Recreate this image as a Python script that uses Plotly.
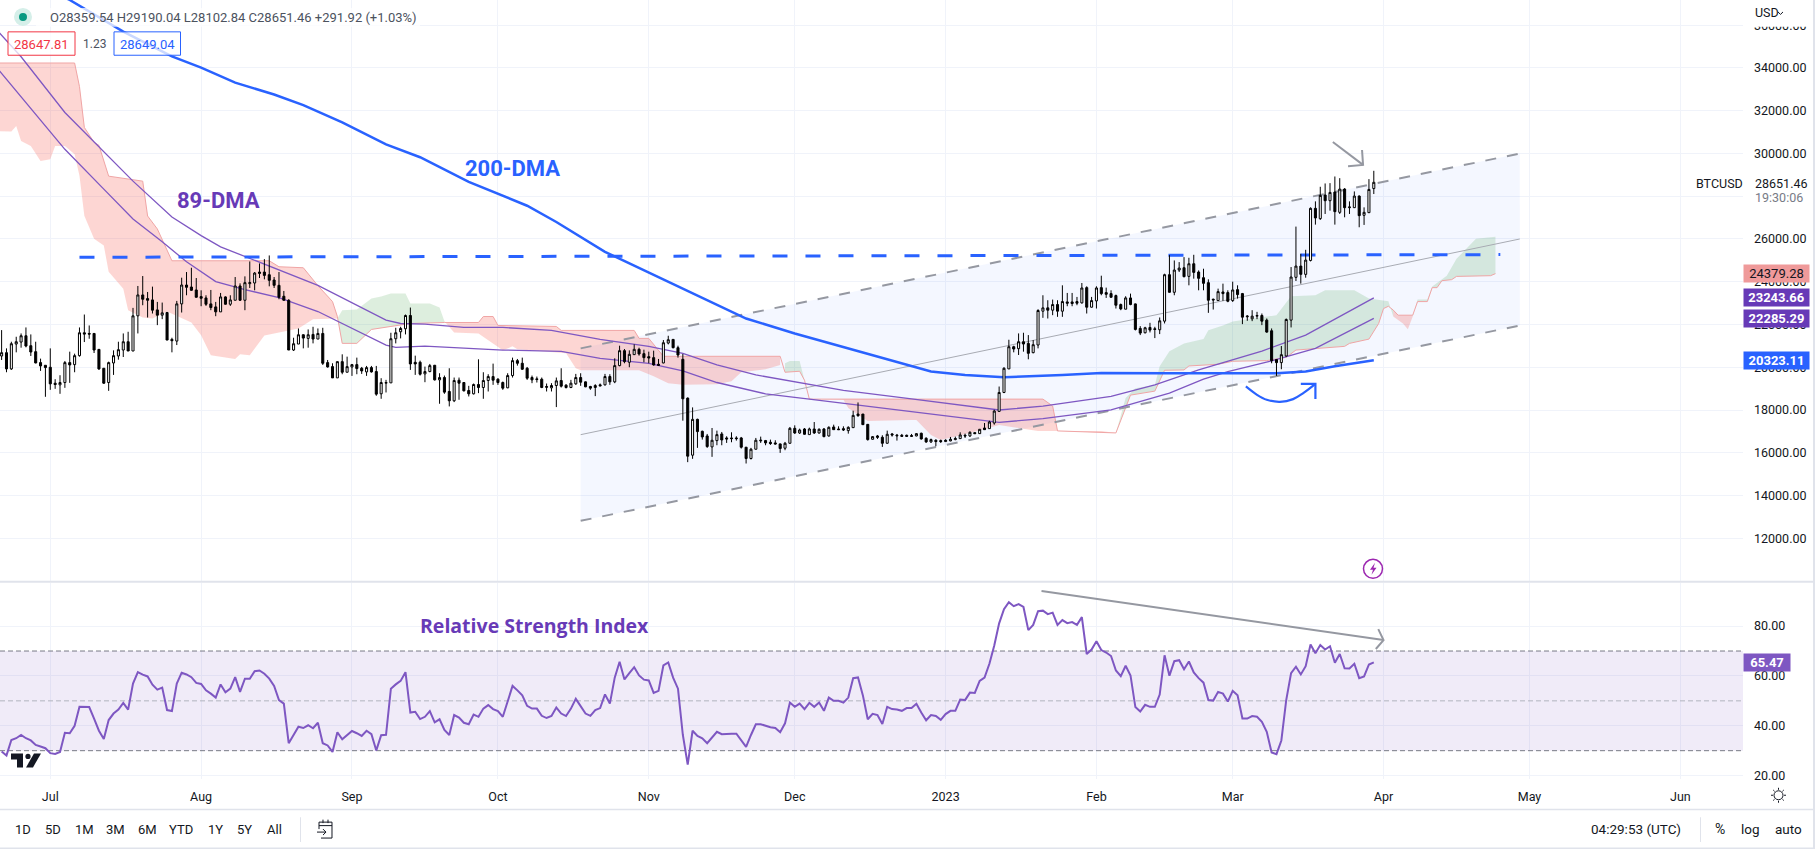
import pandas as pd
import plotly.graph_objs as go


chart_width = 1815
chart_height = 853
font_name = 'Roboto'

candle_dates = pd.date_range('2022-06-21', '2023-03-30')

open_prices = [
    20527,20682,19922,21086,21179,21474,21008,20729,20217,20092,
    20000,19254,19177,19285,20217,20124,20543,21613,21582,21582,
    20837,19953,19285,20201,20527,20806,21194,20760,22405,23383,
    23212,23150,22684,22436,22560,21303,21225,22964,23848,23755,
    23616,23305,23243,22964,22824,22591,23290,22948,23134,23802,
    23134,23910,23941,24454,24454,24329,24081,23833,23321,23134,
    20806,21086,21520,21350,21536,21319,21582,20217,20030,19503,
    20263,19767,
    20015,20124,19953,19782,19984,19798,18758,19255,
    19270,21334,21660,21800,22421,20233,20233,19689,19798,20093,
    19410,19519,18867,18432,19394,19286,18913,18758,19193,19053,
    19379,19565,19441,19286,19037,19612,20310,20186,19953,19519,
    19457,19441,19100,19037,19146,19379,19162,19053,19224,19519,
    19317,19100,19053,19177,19177,19565,19317,20077,20776,20233,
    20590,20838,20636,20496,20450,20139,20201,21133,21303,20915,
    20372,18556,15887,17563,
    17004,16787,16274,16569,16880,16693,
    16693,16693,16693,16259,15731,16166,16554,16569,16492,16461,
    16414,16212,16445,17143,16926,17113,16849,17113,16926,17113,
    16787,17206,17113,17128,17035,17175,17811,17811,17330,16631,
    16787,16724,16445,16880,16787,16818,16818,16802,16787,16911,
    16678,16507,16585,16569,16523,16554,16616,16662,16818,16787,
    16942,16895,17159,17128,17392,17935,18820,19922,20961,
    20869,21195,21117,20683,21040,22623,22778,22669,22933,22623,
    23057,23057,23073,23011,23725,22809,23104,23725,23492,23445,
    23352,22933,22716,23243,22964,21816,21614,21862,21800,21754,
    22157,24330,23507,24547,24656,24252,24842,24454,24190,23957,
    23181,23119,23523,23492,23119,23631,23445,22359,22266,22390,
    22421,22204,21707,20357,20217,20527,22204,24206,24733,24345,
    24997,27434,26953,28055,27791,28194,27248,28334,27465,27465,
    28008,27108,27232,28359.54,
]

high_prices = [
    21738,20884,21194,21427,21582,21862,21536,21194,20403,20092,
    20884,19441,19627,20294,20729,20636,21862,22467,21955,21582,
    20837,19953,20263,20791,21194,21582,21660,22777,23802,24267,
    23522,23771,23057,23026,22591,21381,23103,24190,24454,24655,
    24174,23600,23367,23616,23057,23476,23321,23367,24221,23926,
    24252,24950,24454,24857,25059,25230,24221,24454,23569,23181,
    21381,21815,21536,21769,21893,21815,21846,20341,20186,20263,
    20605,20496,
    20155,20450,20015,20062,20062,20062,19488,19410,
    21614,21847,21893,22467,22793,20543,20310,20031,20155,20108,
    19720,19612,19953,19519,19519,19301,19131,19239,20372,19767,
    19674,20170,19488,19332,19720,20450,20388,20450,20015,19612,
    19565,19519,19239,19255,19519,19953,19208,19410,19689,19720,
    19332,19131,19208,19239,19689,19674,20419,21009,20853,20791,
    21071,20915,20822,20729,20776,20388,21272,21474,21319,21009,
    20621,18587,18122,17594,
    17035,16880,17159,17035,16973,16771,
    16957,16771,16740,16274,16228,16693,16755,16600,16616,16585,
    16430,16507,17206,17283,17128,17159,17175,17438,17143,17159,
    17237,17314,17237,17237,17237,17966,18354,17811,17345,16771,
    16833,16818,17035,16926,16880,16880,16849,16880,16911,16942,
    16724,16662,16631,16616,16631,16740,16755,16957,16895,17004,
    16957,17113,17392,17501,18013,19099,19999,21287,21008,
    21583,21614,21505,21272,22716,23368,23135,23166,23135,23833,
    23476,23476,23290,23942,23787,23290,23787,24283,23725,23600,
    23399,22980,23321,23445,22980,21924,21893,22079,21893,22328,
    24376,25246,24997,24920,25152,25121,25261,24532,24609,24113,
    23212,23678,23911,23600,24004,23833,23476,22436,22669,22592,
    22514,22281,21816,20372,20993,22281,24687,26580,25308,25494,
    27480,27760,28443,28598,28613,28924,28846,28381,27760,28225,
    28039,27480,28800,29190.04,
]

low_prices = [
    20341,19767,19875,20698,20915,20931,20527,20186,19829,18618,
    18944,18991,18758,19037,19270,19767,20496,21179,21334,20667,
    19875,19223,18897,19642,20356,20480,20760,20760,21582,22902,
    22327,22514,21970,22250,21272,20698,21039,22560,23367,23569,
    23259,22855,22870,22669,22389,22591,22933,22870,23134,23103,
    22669,23709,23600,24174,24112,23786,23709,23181,23119,20806,
    20760,21086,20884,20915,21117,21319,20108,19984,19503,19503,
    19673,19767,
    19596,19674,19689,19596,19751,18665,18525,18820,
    19270,21117,21350,21536,19876,19643,19612,19301,19767,19379,
    18293,18758,18168,18370,18479,18867,18634,18727,18789,18525,
    18867,19177,19177,18944,19022,19519,20077,19876,19410,19255,
    19286,19022,18867,18867,18137,19053,19006,19022,19177,19131,
    19069,18944,18650,19115,19146,19177,19255,20046,20186,20000,
    20574,20543,20233,20186,20077,20062,20186,21071,20884,20450,
    17501,15561,15716,16229,
    16616,16228,15809,16352,16352,16461,
    16492,16569,16197,15498,15685,16150,16461,16352,16367,16383,
    15995,16119,16430,16880,16880,16849,16849,16880,16895,16724,
    16755,17066,17066,17019,16895,17159,17687,17299,16569,16616,
    16647,16274,16430,16755,16569,16755,16755,16740,16771,16616,
    16461,16461,16305,16461,16507,16538,16585,16647,16693,16740,
    16880,16880,17081,17113,17314,17919,18789,19922,20698,
    20574,20729,20372,20652,20884,22312,22281,22436,22359,22359,
    22855,22855,22902,22980,22514,22793,22747,23368,23243,23259,
    22747,22669,22716,22902,21722,21505,21583,21629,21365,21552,
    22048,23492,23368,24454,24206,23833,24144,23600,23600,22545,
    22700,23104,23104,23042,23057,23212,22017,22173,22157,22250,
    21971,21614,20186,19596,19907,20496,21862,24035,23911,24190,
    24951,26673,26891,27170,27325,26673,27170,27015,27170,27449,
    26549,26658,27216,28102.84,
]

close_prices = [
    20682,19922,21101,21194,21474,20993,20713,20201,20061,19984,
    19223,19192,19285,20217,20108,20543,21613,21551,21551,20806,
    19922,19254,20217,20543,20822,21194,20760,22405,23383,23181,
    23134,22669,22436,22545,21272,21241,22964,23848,23740,23600,
    23274,23228,22948,22793,22591,23290,22948,23150,23802,23134,
    23957,23957,24407,24392,24298,24066,23833,23274,23134,20806,
    21101,21520,21365,21520,21319,21582,20186,20015,19503,20263,
    19767,20030,
    20124,19938,19829,19984,19782,18743,19286,19286,
    21334,21614,21816,22421,20155,20155,19674,19798,20077,19410,
    19519,18836,18432,19379,19255,18898,18758,19193,19053,19379,
    19565,19394,19286,19022,19612,20310,20186,19907,19488,19410,
    19426,19053,19068,19146,19363,19115,19053,19255,19519,19301,
    19084,19022,19146,19131,19565,19317,20077,20776,20264,20605,
    20838,20621,20450,20434,20108,20093,21148,21288,20915,20574,
    18525,15840,17563,16989,
    16740,16290,16585,16849,16600,16647,
    16662,16662,16259,15731,16166,16585,16585,16461,16430,16414,
    16197,16445,17143,16926,17066,16864,17113,16926,17097,16755,
    17190,17081,17081,17066,17190,17749,17733,17314,16616,16755,
    16724,16445,16864,16833,16818,16771,16771,16771,16895,16647,
    16507,16616,16523,16523,16585,16631,16662,16833,16786,16957,
    16895,17097,17081,17438,17951,18820,19953,20961,20853,
    21195,21086,20652,21055,22654,22778,22669,22933,22623,23073,
    22995,22980,22995,23709,22809,23119,23709,23445,23414,23274,
    22902,22731,23243,22933,21769,21598,21847,21738,21769,22173,
    24330,23507,24547,24640,24237,24842,24438,24159,23926,23135,
    23150,23538,23445,23088,23616,23399,22343,22390,22390,22421,
    22157,21645,20310,20217,20589,22235,24221,24733,24345,25013,
    27434,26984,28039,27791,28179,27279,28334,27465,27496,28008,
    27092,27248,28318,28651.46,
]

rsi_values = [
    29.7,28.1,34.3,35.0,36.3,35.0,34.1,32.3,31.7,31.0,
    29.0,28.7,29.5,37.2,37.0,40.0,47.6,47.6,47.5,42.9,38.0,34.7,42.3,44.9,46.5,49.2,46.5,56.9,61.5,60.5,59.8,
    56.5,54.5,55.3,46.3,45.9,56.9,61.3,60.6,59.5,57.2,
    56.8,54.2,52.9,51.3,56.6,53.4,54.9,59.5,53.6,58.9,58.9,61.9,62.2,60.9,58.9,56.0,50.3,48.9,33.0,36.3,39.6,
    39.1,40.2,39.0,41.2,33.0,32.1,29.5,37.4,34.6,36.3,
    37.9,37.0,35.9,38.0,36.6,30.1,36.2,36.4,54.9,56.6,58.0,61.5,45.3,45.6,42.7,43.6,45.9,41.4,42.6,38.3,36.3,
    44.3,43.3,41.2,40.6,44.5,43.6,46.9,48.3,46.7,
    45.9,43.6,49.9,56.0,54.2,52.2,48.0,46.9,46.9,44.0,43.1,43.9,47.3,44.9,43.9,46.9,50.8,47.6,44.9,44.0,46.3,47.1,
    52.6,48.9,59.3,65.7,58.6,61.1,63.5,60.2,58.5,
    58.2,53.2,54.0,64.2,65.4,59.3,54.9,36.3,24.4,38.0,35.9,35.0,33.0,35.4,37.6,36.6,36.8,36.8,36.8,34.3,31.5,
    36.3,40.6,40.6,39.9,39.4,39.1,37.4,41.0,49.3,
    47.6,48.9,46.7,49.2,47.6,49.3,46.0,51.3,50.0,50.0,49.3,51.3,59.1,59.4,52.2,42.6,44.8,44.3,40.7,47.6,46.7,
    46.5,46.0,47.1,47.1,48.8,45.3,42.2,44.3,43.9,42.4,
    44.7,46.0,46.0,50.5,50.3,53.3,53.2,58.0,59.3,64.9,72.2,81.1,86.8,89.6,88.0,88.8,87.7,78.4,80.5,86.0,86.2,
    84.8,85.4,80.5,82.4,81.2,81.6,80.5,83.6,68.8,70.6,
    73.9,70.4,69.4,68.0,62.2,59.9,64.1,60.2,47.5,45.7,48.4,47.6,47.6,52.5,68.3,60.1,65.9,66.3,62.7,65.8,61.4,
    59.1,57.3,50.3,50.1,53.6,52.9,49.7,
    54.0,52.2,42.9,42.9,43.9,43.6,41.6,37.6,29.3,28.6,34.1,50.3,61.1,63.7,60.6,63.9,72.6,69.1,72.4,70.6,71.9,
    65.3,68.8,63.1,63.0,64.9,59.1,59.8,64.6,65.47,
]

dma_200_dates = ['2022-06-20','2022-07-05','2022-07-16','2022-07-26','2022-08-01','2022-08-08','2022-08-16','2022-08-22',
    '2022-08-30','2022-09-08','2022-09-15','2022-09-25','2022-10-07','2022-10-13','2022-10-23','2022-11-05','2022-11-13',
    '2022-11-21','2022-12-01','2022-12-13','2022-12-25','2022-12-29','2023-01-05','2023-01-13','2023-01-25','2023-02-02',
    '2023-02-15','2023-03-10','2023-03-16','2023-03-22','2023-03-30']
dma_200 = [38900,37180,35704,34540,34014,33316,32757,32259,31453,30429,29824,28673,27556,26797,25400,24003,23133,
    22280,21582,20805,20046,19800,19640,19530,19640,19735,19720,19720,19800,20046,20323.11]

dma_89_high_dates = ['2022-06-20','2022-06-25','2022-07-04','2022-07-12','2022-07-18','2022-07-26','2022-08-01','2022-08-05',
    '2022-08-10','2022-08-17','2022-08-25','2022-09-08','2022-09-11','2022-09-16','2022-09-24','2022-10-02','2022-10-12',
    '2022-10-22','2022-11-01','2022-11-08','2022-11-15','2022-11-23','2022-12-11','2022-12-25','2023-01-12','2023-01-21',
    '2023-02-04','2023-02-13','2023-02-22','2023-03-07','2023-03-16','2023-03-30']
dma_89_high = [35783,34526,31919,30056,28706,27030,26159,25633,25190,24576,23832,22202,22047,22015,21862,21862,21722,
    21303,20977,20651,20107,19641,18915,18524,18000,18186,18635,19175,19874,20758,21503,23243.66]

dma_89_low_dates = ['2022-06-20','2022-06-25','2022-07-04','2022-07-12','2022-07-18','2022-07-24','2022-07-29','2022-08-04',
    '2022-08-10','2022-08-17','2022-08-25','2022-09-08','2022-09-10','2022-09-16','2022-09-24','2022-10-02','2022-10-14',
    '2022-10-22','2022-11-01','2022-11-08','2022-11-15','2022-11-25','2022-12-04','2022-12-25','2023-01-12','2023-01-21',
    '2023-02-04','2023-02-16','2023-02-23','2023-02-28','2023-03-09','2023-03-18','2023-03-30']
dma_89_low = [34014,32664,30196,28334,26937,25866,24935,24004,23631,23259,22607,21038,20931,20991,20884,20805,20744,
    20418,20186,19827,19287,18756,18510,17937,17425,17593,18011,18789,19440,19800,20293,20884,22285.29]

span_b_dates = ['2022-06-20','2022-07-06','2022-07-07','2022-07-08','2022-07-10','2022-07-11','2022-07-13','2022-07-20',
    '2022-07-21','2022-07-23','2022-07-26','2022-08-15','2022-08-17','2022-08-22','2022-08-25','2022-08-28','2022-08-29',
    '2022-08-30','2022-09-02','2022-09-05','2022-09-09','2022-09-13','2022-09-20','2022-09-27','2022-09-28','2022-09-30',
    '2022-10-01','2022-10-13','2022-10-14','2022-10-29','2022-10-30','2022-11-01','2022-11-04','2022-11-28','2022-11-29',
    '2022-12-02','2022-12-03','2022-12-04','2023-01-21','2023-01-23','2023-01-24','2023-02-05','2023-02-08','2023-02-13',
    '2023-02-15','2023-02-19','2023-02-20','2023-02-26','2023-03-01','2023-03-08','2023-03-12','2023-03-14','2023-03-24',
    '2023-03-25','2023-03-29','2023-03-31','2023-04-01','2023-04-02','2023-04-03','2023-04-04','2023-04-07','2023-04-08',
    '2023-04-10','2023-04-11','2023-04-12','2023-04-13','2023-04-15','2023-04-16','2023-04-23','2023-04-24']
span_b = [34233,34233,33130,31220,30522,30382,28939,28706,27076,26470,24981,24981,24702,24655,23817,23073,22375,
    21118,21118,21769,21909,22047,22094,22094,22373,22373,21955,21909,21723,21723,21351,21351,20512,20512,19766,
    19813,19395,18510,18510,18186,17022,16928,18697,18884,19859,19874,20060,20140,20280,20311,20465,20805,20977,
    21117,21317,22047,22745,22854,22675,22435,22435,23072,23072,23724,23724,24050,24097,24250,24283,24379.28]

span_a_dates = ['2022-06-20','2022-06-23','2022-06-24','2022-06-25','2022-06-27','2022-06-29','2022-07-01','2022-07-02',
    '2022-07-04','2022-07-06','2022-07-07','2022-07-08','2022-07-10','2022-07-12','2022-07-13','2022-07-16','2022-07-17',
    '2022-07-20','2022-07-22','2022-07-25','2022-07-30','2022-08-01','2022-08-03','2022-08-08','2022-08-09','2022-08-11',
    '2022-08-14','2022-08-15','2022-08-21','2022-08-24','2022-08-29','2022-08-30','2022-09-02','2022-09-05','2022-09-07',
    '2022-09-09','2022-09-12','2022-09-13','2022-09-17','2022-09-19','2022-09-20','2022-09-22','2022-09-27','2022-09-29',
    '2022-10-02','2022-10-04','2022-10-05','2022-10-15','2022-10-17','2022-10-18','2022-10-30','2022-11-02','2022-11-05',
    '2022-11-08','2022-11-15','2022-11-18','2022-11-20','2022-11-25','2022-11-28','2022-11-29','2022-11-30','2022-12-02',
    '2022-12-03','2022-12-04','2022-12-11','2022-12-12','2022-12-14','2022-12-16','2022-12-25','2022-12-26','2022-12-29',
    '2022-12-31','2023-01-06','2023-01-12','2023-01-16','2023-01-20','2023-01-24','2023-02-02','2023-02-05','2023-02-07',
    '2023-02-09','2023-02-13','2023-02-14','2023-02-16','2023-02-19','2023-02-23','2023-02-24','2023-02-27','2023-03-01',
    '2023-03-10','2023-03-13','2023-03-18','2023-03-20','2023-03-26','2023-03-29','2023-04-02','2023-04-03','2023-04-05',
    '2023-04-06','2023-04-07','2023-04-08','2023-04-10','2023-04-11','2023-04-14','2023-04-16','2023-04-20','2023-04-24']
span_a = [31048,31034,31281,30582,30350,29651,29730,30350,30350,29963,28953,27090,26006,25694,24469,23677,22667,
    22327,22281,22607,22095,21503,20559,20386,20605,20559,21489,21536,21815,22245,22281,22667,22700,23212,23305,
    23445,23445,22979,22979,22793,22155,21628,21581,21255,20791,20977,20837,20651,19953,19860,19860,19582,19255,
    19176,19208,19348,19767,19906,20107,20186,20293,20293,19395,18510,18477,18090,17778,17485,17532,17532,16833,
    16600,16926,17298,17158,17019,17019,17019,16928,18560,19022,19175,20046,20744,21117,21317,21736,21955,22140,
    22435,23319,23366,23598,23598,23212,23086,22375,22047,21783,22375,23170,23170,23772,24283,25074,26006,26100]

channel_dates = ['2022-10-18','2023-04-29']
channel_top = [20884,30000]
channel_mid = [16847,26000]
channel_bottom = [12815,21955]

resistance_dates = ['2022-07-07','2023-04-25']
resistance = [25146,25269]

rsi_band_dates = ['2022-06-20 16:00','2023-06-13 21:00']
rsi_low = [30,30]
rsi_mid = [50,50]
rsi_high = [70,70]

price_arrow_dates = ['2023-03-21 14:00','2023-03-27 19:00',None,'2023-03-27 14:00','2023-03-27 19:00','2023-03-24 17:00']
price_arrow = [30536,29465,None,30163,29465,29404]

turn_dates = ['2023-03-03 17:00','2023-03-06','2023-03-08','2023-03-10 17:00','2023-03-13 10:00','2023-03-15 12:00','2023-03-18']
turn_prices = [19101,18710,18477,18384,18510,18790,19222]
turn_head_dates = ['2023-03-15','2023-03-18','2023-03-18']
turn_head = [19222,19222,18510]

rsi_arrow_dates = ['2023-01-20 17:00','2023-04-01',None,'2023-03-30 22:00','2023-04-01','2023-03-30 10:00']
rsi_arrow = [94.1,74.4,None,78.8,74.4,70.8]

month_ticks = ['2022-07-01','2022-08-01','2022-09-01','2022-10-01','2022-11-01','2022-12-01','2023-01-01',
    '2023-02-01','2023-03-01','2023-04-01','2023-05-01','2023-06-01']
month_names = ['Jul','Aug','Sep','Oct','Nov','Dec','2023','Feb','Mar','Apr','May','Jun']
price_ticks = [12000,14000,16000,18000,20000,22000,24000,26000,28000,30000,32000,34000,36000]
rsi_ticks = [20,40,60,80]

range_buttons = ['1D','5D','1M','3M','6M','YTD','1Y','5Y','All']
range_button_x = [23,53,84,115,147,181,215,244,274]

red_cloud = 'rgba(244,67,54,0.22)'
green_cloud = 'rgba(67,160,71,0.18)'


def cloud_piece(fig, start, end, color):

    top_x = [d for d in span_b_dates if start <= d <= end]
    top_y = [p for d, p in zip(span_b_dates, span_b) if start <= d <= end]
    bottom_x = [d for d in span_a_dates if start <= d <= end]
    bottom_y = [p for d, p in zip(span_a_dates, span_a) if start <= d <= end]

    fig.add_trace(go.Scatter(
        x = top_x + bottom_x[::-1],
        y = top_y + bottom_y[::-1],
        mode = 'lines',
        fill = 'toself',
        fillcolor = color,
        line = dict(width=0),
        zorder = -1
    ))


def price_line(fig, x, y, color, width, dash='solid', shape='linear'):

    fig.add_trace(go.Scatter(
        x = x,
        y = y,
        mode = 'lines',
        line = dict(color=color, width=width, dash=dash, shape=shape),
        connectgaps = False,
        zorder = -1
    ))


def rsi_line(fig, x, y, color, width, dash='solid'):

    fig.add_trace(go.Scatter(
        x = x,
        y = y,
        yaxis = 'y2',
        mode = 'lines',
        line = dict(color=color, width=width, dash=dash)
    ))


def page_label(fig, text, x, y, size=12, color='#131722', xanchor='left', family=font_name):

    fig.add_annotation(
        text = text,
        x = x / chart_width,
        y = 1 - y / chart_height,
        xref = 'paper',
        yref = 'paper',
        xanchor = xanchor,
        yanchor = 'middle',
        showarrow = False,
        font = dict(family=family, size=size, color=color)
    )


def axis_tag(fig, text, y, yref, bgcolor, color='white', width=65):

    fig.add_annotation(
        text = text,
        x = 1743 / chart_width,
        y = y,
        xref = 'paper',
        yref = yref,
        xanchor = 'left',
        yanchor = 'middle',
        width = width,
        height = 17,
        borderpad = 0,
        bgcolor = bgcolor,
        showarrow = False,
        font = dict(family=font_name, size=13, color=color)
    )


def page_path(points, close=False):

    parts = [f'{x / chart_width:.5f} {1 - y / chart_height:.5f}' for x, y in points]
    return 'M ' + ' L '.join(parts) + (' Z' if close else '')


def page_shape(fig, points, line_color=None, fill=None, width=1, close=False):

    fig.add_shape(
        type = 'path',
        path = page_path(points, close),
        xref = 'paper',
        yref = 'paper',
        line = dict(color=line_color, width=width) if line_color else dict(width=0),
        fillcolor = fill,
        layer = 'above'
    )


def page_circle(fig, x, y, r, line_color=None, fill=None, width=1):

    fig.add_shape(
        type = 'circle',
        x0 = (x - r) / chart_width,
        x1 = (x + r) / chart_width,
        y0 = 1 - (y + r) / chart_height,
        y1 = 1 - (y - r) / chart_height,
        xref = 'paper',
        yref = 'paper',
        line = dict(color=line_color, width=width) if line_color else dict(width=0),
        fillcolor = fill,
        layer = 'above'
    )


def page_box(fig, x0, y0, x1, y1, line_color=None, fill=None):

    fig.add_shape(
        type = 'rect',
        x0 = x0 / chart_width,
        x1 = x1 / chart_width,
        y0 = 1 - y1 / chart_height,
        y1 = 1 - y0 / chart_height,
        xref = 'paper',
        yref = 'paper',
        line = dict(color=line_color, width=1) if line_color else dict(width=0),
        fillcolor = fill,
        layer = 'above'
    )


def plot_btc_chart():

    fig = go.Figure()

    # channel behind everything
    fig.add_trace(go.Scatter(
        x = channel_dates + channel_dates[::-1],
        y = channel_top + channel_bottom[::-1],
        mode = 'lines',
        fill = 'toself',
        fillcolor = 'rgba(41,98,255,0.05)',
        line = dict(width=0),
        zorder = -1
    ))

    cloud_piece(fig, '2022-06-20', '2022-08-29', red_cloud)
    cloud_piece(fig, '2022-08-29', '2022-09-20', green_cloud)
    cloud_piece(fig, '2022-09-20', '2022-11-28', red_cloud)
    cloud_piece(fig, '2022-11-29', '2022-12-03', green_cloud)
    cloud_piece(fig, '2022-12-03', '2023-02-05', red_cloud)
    cloud_piece(fig, '2023-02-05', '2023-04-03', green_cloud)
    cloud_piece(fig, '2023-04-03', '2023-04-07', red_cloud)
    cloud_piece(fig, '2023-04-07', '2023-04-24', green_cloud)

    price_line(fig, span_b_dates, span_b, 'rgb(240,165,165)', 1)
    price_line(fig, channel_dates, channel_top, '#9598a1', 2, '11px,11px')
    price_line(fig, channel_dates, channel_bottom, '#9598a1', 2, '11px,11px')
    price_line(fig, channel_dates, channel_mid, '#a8abb3', 1)
    price_line(fig, dma_89_high_dates, dma_89_high, '#7e57c2', 1.3)
    price_line(fig, dma_89_low_dates, dma_89_low, '#7e57c2', 1.3)
    price_line(fig, dma_200_dates, dma_200, '#2962ff', 2.5)
    price_line(fig, resistance_dates, resistance, '#2962ff', 3, '15px,18px')
    price_line(fig, price_arrow_dates, price_arrow, '#9598a1', 2)
    price_line(fig, turn_dates, turn_prices, '#2962ff', 2.2, shape='spline')
    price_line(fig, turn_head_dates, turn_head, '#2962ff', 2.2)

    fig.add_trace(go.Candlestick(
        x = candle_dates,
        open = open_prices,
        high = high_prices,
        low = low_prices,
        close = close_prices,
        increasing = dict(fillcolor='white', line=dict(color='black', width=1)),
        decreasing = dict(fillcolor='black', line=dict(color='black', width=1)),
        whiskerwidth = 0
    ))

    # rsi pane
    fig.add_trace(go.Scatter(
        x = rsi_band_dates + rsi_band_dates[::-1],
        y = rsi_high + rsi_low,
        yaxis = 'y2',
        mode = 'lines',
        fill = 'toself',
        fillcolor = 'rgba(103,58,183,0.1)',
        line = dict(width=0)
    ))
    rsi_line(fig, rsi_band_dates, rsi_high, '#787b86', 1, '5px,3px')
    rsi_line(fig, rsi_band_dates, rsi_mid, '#b2b5be', 1, '5px,3px')
    rsi_line(fig, rsi_band_dates, rsi_low, '#787b86', 1, '5px,3px')
    rsi_line(fig, candle_dates, rsi_values, '#7e57c2', 2)
    rsi_line(fig, rsi_arrow_dates, rsi_arrow, '#9598a1', 2)

    fig.update_layout(
        width = chart_width,
        height = chart_height,
        margin = dict(l=0, r=0, t=0, b=0),
        paper_bgcolor = 'white',
        plot_bgcolor = 'white',
        showlegend = False,
        boxgap = 0.4,
        font = dict(family=font_name, size=12.5, color='#131722'),
        xaxis = dict(
            type = 'date',
            domain = [0, 1743 / chart_width],
            anchor = 'y2',
            range = ['2022-06-20 16:00', '2023-06-13 21:00'],
            tickvals = month_ticks,
            ticktext = month_names,
            ticks = '',
            showgrid = True,
            gridcolor = '#f0f3fa',
            zeroline = False,
            ticklabelstandoff = 8,
            rangeslider = dict(visible=False)
        ),
        yaxis = dict(
            domain = [1 - 584.3 / chart_height, 1],
            anchor = 'x',
            side = 'right',
            range = [9975, 37180],
            tickvals = price_ticks,
            tickformat = '.2f',
            ticks = '',
            showgrid = True,
            gridcolor = '#f0f3fa',
            zeroline = False,
            ticklabelstandoff = 10
        ),
        yaxis2 = dict(
            domain = [1 - 783 / chart_height, 1 - 585.5 / chart_height],
            anchor = 'x',
            side = 'right',
            range = [18.5, 97.4],
            tickvals = rsi_ticks,
            tickformat = '.2f',
            ticks = '',
            showgrid = True,
            gridcolor = '#f0f3fa',
            zeroline = False,
            ticklabelstandoff = 10
        )
    )

    # frame and panels
    page_box(fig, 1743, 0, 1813, 27, fill='white')
    page_box(fig, 0, 583.5, 1813, 585.5, fill='#e0e3eb')
    page_box(fig, 0, 812.5, 1813, 814, fill='#e0e3eb')
    page_box(fig, 0, 851.5, 1815, 853, fill='#e0e3eb')
    page_box(fig, 1813, 0, 1815, 853, fill='#e0e3eb')
    page_box(fig, 300, 821, 301, 846, fill='#e0e3eb')
    page_box(fig, 1700, 821, 1701, 846, fill='#e0e3eb')

    # legend row
    page_box(fig, 36, 8, 420, 27, fill='rgba(255,255,255,0.75)')
    page_circle(fig, 23, 17, 9, fill='#d5efe9')
    page_circle(fig, 23, 17, 4, fill='#089981')
    page_label(fig, 'O28359.54 H29190.04 L28102.84 C28651.46 +291.92 (+1.03%)', 48, 17.5, 13, '#4c525e')
    page_box(fig, 8, 32, 75, 55.5, '#f23645', 'rgba(255,255,255,0.75)')
    page_label(fig, '28647.81', 41.5, 44.5, 13, '#f23645', 'center')
    page_label(fig, '1.23', 94, 44, 12, '#4c525e', 'center')
    page_box(fig, 114, 32, 180.5, 55.5, '#2962ff', 'rgba(255,255,255,0.75)')
    page_label(fig, '28649.04', 147, 44.5, 13, '#2962ff', 'center')

    # drawn texts
    page_label(fig, '<b>200-DMA</b>', 463, 169, 22, '#2962ff')
    page_label(fig, '<b>89-DMA</b>', 175, 201, 22, '#673ab7')
    page_label(fig, '<b>Relative Strength Index</b>', 418, 628, 19.5, '#673ab7', family='Open Sans')

    # axis tags
    page_label(fig, 'USD', 1753, 13, 12.5, '#131722')
    page_shape(fig, [(1778, 12), (1780.5, 14.5), (1783, 12)], '#131722')
    page_label(fig, 'BTCUSD', 1694, 184, 12.5, '#131722')
    page_box(fig, 1750, 176, 1808, 206, fill='white')
    page_label(fig, '28651.46', 1753, 184, 12.5, '#131722')
    page_label(fig, '19:30:06', 1753, 198, 12.5, '#787b86')
    axis_tag(fig, '24379.28', 24379.28, 'y', '#ef9a9a', '#131722')
    axis_tag(fig, '<b>23243.66</b>', 23243.66, 'y', '#673ab7')
    axis_tag(fig, '<b>22285.29</b>', 22285.29, 'y', '#673ab7')
    axis_tag(fig, '<b>20323.11</b>', 20323.11, 'y', '#2962ff')
    axis_tag(fig, '<b>65.47</b>', 65.47, 'y2', '#7e57c2', width=46)

    # toolbar
    for name, x in zip(range_buttons, range_button_x):
        page_label(fig, name, x, 833, 13, '#131722', 'center')
    page_label(fig, '04:29:53 (UTC)', 1636, 833, 13.5, '#131722', 'center')
    page_label(fig, '%', 1720, 833, 14, '#131722', 'center')
    page_label(fig, 'log', 1750, 833, 13.5, '#131722', 'center')
    page_label(fig, 'auto', 1788, 833, 13.5, '#131722', 'center')

    # calendar icon
    page_shape(fig, [(319, 833), (319, 826), (332, 826), (332, 842), (321, 842)], '#131722')
    page_shape(fig, [(319, 829.5), (332, 829.5)], '#131722')
    page_shape(fig, [(323, 823.5), (323, 827)], '#131722')
    page_shape(fig, [(328, 823.5), (328, 827)], '#131722')
    page_shape(fig, [(317, 836), (326, 836)], '#131722')
    page_shape(fig, [(323, 833), (326, 836), (323, 839)], '#131722')

    # tradingview mark
    page_shape(fig, [(11, 757), (23, 757), (23, 771), (17, 771), (17, 763), (11, 763)], fill='#131722', close=True)
    page_circle(fig, 28, 760, 2.6, fill='#131722')
    page_shape(fig, [(34, 757), (41, 757), (33, 771), (26, 771)], fill='#131722', close=True)

    # bolt marker
    page_circle(fig, 1373, 571.5, 9.5, '#9c27b0', 'white', 1.5)
    page_shape(fig, [(1375, 565.5), (1370, 572.5), (1373, 572.5), (1371.5, 577.5), (1376.5, 570.5), (1373.5, 570.5)],
               fill='#9c27b0', close=True)

    # theme icon
    page_circle(fig, 1778.5, 799, 4.5, '#131722')
    for a, b in [((1778.5, 791.5), (1778.5, 793.5)), ((1778.5, 804.5), (1778.5, 806.5)),
                 ((1771, 799), (1773, 799)), ((1784, 799), (1786, 799)),
                 ((1773.2, 793.7), (1774.6, 795.1)), ((1782.4, 802.9), (1783.8, 804.3)),
                 ((1773.2, 804.3), (1774.6, 802.9)), ((1782.4, 795.1), (1783.8, 793.7))]:
        page_shape(fig, [a, b], '#131722')

    fig.write_html('out.html', config=dict(displayModeBar=False),
                   post_script="document.body.style.margin='0';document.body.style.overflow='hidden';")


plot_btc_chart()
